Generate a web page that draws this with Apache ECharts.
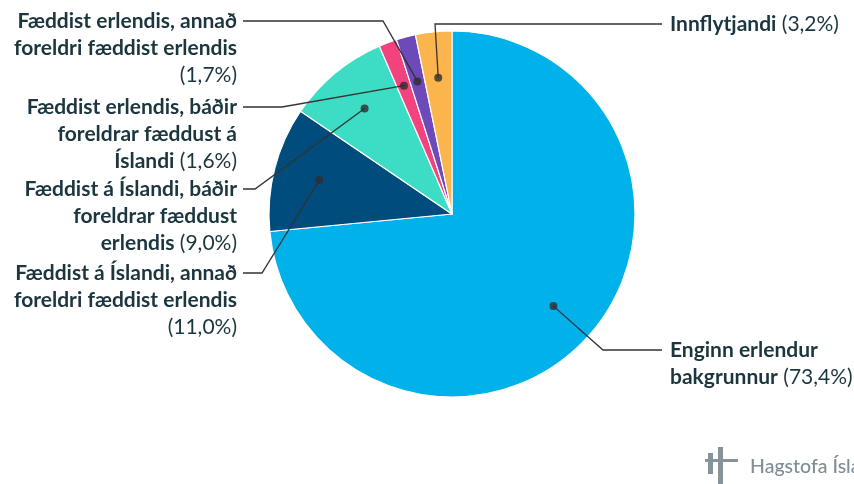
<!DOCTYPE html>
<html>
<head>
<meta charset="utf-8">
<script src="https://cdn.jsdelivr.net/npm/echarts@6/dist/echarts.min.js"></script>
<style>
html,body{margin:0;padding:0;background:#fff;}
#chart{width:854px;height:484px;}
</style>
</head>
<body>
<div id="chart"></div>
<script>
// ---- data ----
const names = [
  'Enginn erlendur\nbakgrunnur',
  'Fæddist á Íslandi, annað\nforeldri fæddist erlendis',
  'Fæddist á Íslandi, báðir\nforeldrar fæddust\nerlendis',
  'Fæddist erlendis, báðir\nforeldrar fæddust á\nÍslandi',
  'Fæddist erlendis, annað\nforeldri fæddist erlendis',
  'Innflytjandi'
];
const values = [73.4, 11.0, 9.0, 1.6, 1.7, 3.2];
const pctOnOwnLine = [false, true, false, false, true, false];

// ---- styles / layout ----
const colors = ['#00b1ea', '#004c7d', '#3ddcc4', '#f2437f', '#6d49b9', '#fcb44d'];
const textColor = '#1c363f';
const CX = 452, CY = 214, R = 183, R_DOT = 137;
const labelPos = [
  {side: 'right', y: 350, elbowX: 603, endX: 662},
  {side: 'left',  y: 273, elbowX: 262, endX: 243},
  {side: 'left',  y: 189, elbowX: 255, endX: 243},
  {side: 'left',  y: 107, elbowX: 282, endX: 243},
  {side: 'left',  y: 21,  elbowX: 383, endX: 243},
  {side: 'right', y: 24,  elbowX: 435, endX: 662}
];
const LINE_H = 27;
const FONT_SIZE = 21;

function fmtPct(v) { return '(' + v.toFixed(1).replace('.', ',') + '%)'; }

const total = values.reduce((a, b) => a + b, 0);
const mids = [];
{ let acc = 0; values.forEach(v => { mids.push(acc + v / 2); acc += v; }); }

const pieData = names.map((n, i) => ({
  name: n, value: values[i], itemStyle: {color: colors[i]}
}));
const labelData = names.map((n, i) => ({
  name: n, value: values[i],
  label: {align: labelPos[i].side === 'left' ? 'right' : 'left'}
}));

const chart = echarts.init(document.getElementById('chart'), null, {renderer: 'canvas'});
chart.setOption({
  animation: false,
  backgroundColor: '#fff',
  polar: {center: [CX, CY], radius: R},
  angleAxis: {type: 'value', min: 0, max: total, startAngle: 90, clockwise: true, show: false},
  radiusAxis: {type: 'value', min: 0, max: R, show: false},
  series: [
    {
      type: 'pie', center: [CX, CY], radius: R, startAngle: 90, clockwise: true,
      silent: true, label: {show: false}, labelLine: {show: false},
      itemStyle: {borderColor: '#ffffff', borderWidth: 1.2},
      data: pieData, z: 1
    },
    {
      type: 'pie', center: [CX, CY], radius: R_DOT, startAngle: 90, clockwise: true,
      silent: true, avoidLabelOverlap: false, z: 3,
      itemStyle: {color: 'rgba(0,0,0,0)', borderWidth: 0},
      label: {
        show: true, position: 'outside',
        formatter: function (p) {
          const i = p.dataIndex;
          const lines = names[i].split('\n').map(s => '{b|' + s + '}');
          const pct = '{n|' + fmtPct(values[i]) + '}';
          if (pctOnOwnLine[i]) { lines.push(pct); }
          else { lines[lines.length - 1] += '{n| }' + pct; }
          return lines.join('\n');
        },
        rich: {
          b: {fontFamily: 'Lato', fontWeight: 'bold', fontSize: FONT_SIZE, color: textColor, lineHeight: LINE_H},
          n: {fontFamily: 'Lato', fontWeight: 'normal', fontSize: FONT_SIZE, color: textColor, lineHeight: LINE_H}
        }
      },
      labelLine: {show: true, length: 10, length2: 10, lineStyle: {color: '#333333', width: 1.3}},
      labelLayout: function (params) {
        const i = params.dataIndex;
        const lp = labelPos[i];
        let p0;
        if (params.labelLinePoints && params.labelLinePoints[0]) {
          p0 = params.labelLinePoints[0];
        } else {
          const a = mids[i] / total * 2 * Math.PI;
          p0 = [CX + R_DOT * Math.sin(a), CY - R_DOT * Math.cos(a)];
        }
        const isLeft = lp.side === 'left';
        return {
          x: isLeft ? lp.endX - 6 : lp.endX + 8,
          y: lp.y - LINE_H / 2,
          align: isLeft ? 'right' : 'left',
          verticalAlign: 'top',
          labelLinePoints: [p0, [lp.elbowX, lp.y], [lp.endX, lp.y]]
        };
      },
      data: labelData
    },
    {
      type: 'scatter', coordinateSystem: 'polar', silent: true, z: 4,
      symbol: 'circle', symbolSize: 8,
      itemStyle: {color: '#2e2e2e'},
      data: mids.map(m => [R_DOT, m])
    }
  ],
  graphic: [
    {type: 'rect', shape: {x: 708, y: 453, width: 5, height: 21}, style: {fill: '#86949a'}},
    {type: 'rect', shape: {x: 718, y: 447, width: 5, height: 37}, style: {fill: '#86949a'}},
    {type: 'rect', shape: {x: 705, y: 459, width: 33, height: 3}, style: {fill: '#86949a'}},
    {type: 'text', x: 750, y: 467, style: {text: 'Hagstofa Íslands', fill: '#7f8e95', font: '500 19.5px Lato', verticalAlign: 'middle'}}
  ]
});
</script>
</body>
</html>
